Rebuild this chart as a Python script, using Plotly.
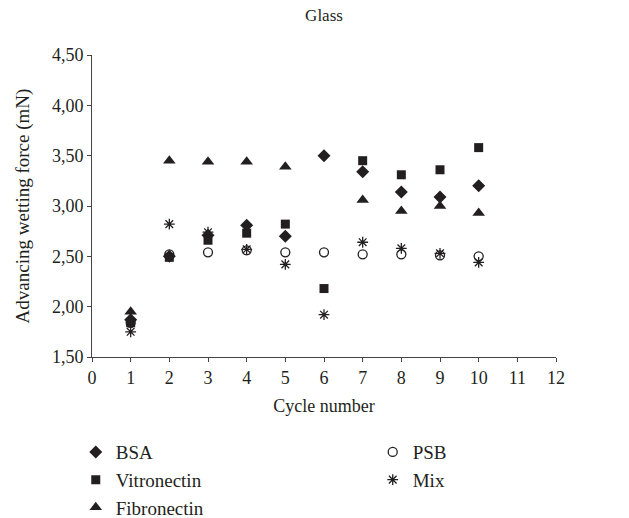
import plotly.graph_objects as go

cycles = [1, 2, 3, 4, 5, 6, 7, 8, 9, 10]
bsa = [1.87, 2.50, 2.71, 2.81, 2.70, 3.50, 3.34, 3.14, 3.09, 3.20]
vitronectin = [1.84, 2.49, 2.66, 2.73, 2.82, 2.18, 3.45, 3.31, 3.36, 3.58]
fibronectin = [1.95, 3.45, 3.44, 3.44, 3.39, None, 3.06, 2.95, 3.00, 2.93]
psb = [1.84, 2.52, 2.54, 2.56, 2.54, 2.54, 2.52, 2.52, 2.51, 2.50]
mix = [1.75, 2.82, 2.74, 2.57, 2.42, 1.92, 2.64, 2.58, 2.53, 2.44]

ink = "#231f20"
axis_col = "#444"
font_family = "Liberation Serif, Times New Roman, serif"

fig = go.Figure()
series = [
    ("BSA", bsa, "diamond", 10, "legend"),
    ("Vitronectin", vitronectin, "square", 9, "legend"),
    ("Fibronectin", fibronectin, "triangle-up", 11, "legend"),
    ("PSB", psb, "circle-open", 9, "legend2"),
    ("Mix", mix, "asterisk-open", 9, "legend2"),
]
for name, vals, sym, size, leg in series:
    fig.add_trace(go.Scatter(
        x=cycles, y=vals, mode="markers", name=name, legend=leg,
        marker=dict(symbol=sym, size=size, color=ink,
                    line=dict(color=ink, width=1.3 if "open" in sym else 0)),
    ))

fig.update_layout(
    width=629, height=518,
    margin=dict(l=92, r=73, t=55, b=161, autoexpand=False),
    paper_bgcolor="white", plot_bgcolor="white",
    separators=",.",
    font=dict(family=font_family, size=18, color=ink),
    title=dict(text="Glass", x=(92 + 232) / 629, xanchor="center", y=1 - 15 / 518,
               yanchor="middle", font=dict(size=17, color=ink)),
    xaxis=dict(range=[0, 12], dtick=1, tick0=0, showline=True, linecolor=axis_col,
               linewidth=1, ticks="outside", ticklen=4, tickcolor=axis_col,
               showgrid=False, zeroline=False,
               title=dict(text="Cycle number", standoff=12, font=dict(size=18)),
               tickfont=dict(size=18)),
    yaxis=dict(range=[1.5, 4.5], dtick=0.5, tick0=1.5, tickformat=".2f",
               showline=True, linecolor=axis_col, linewidth=1, ticks="outside",
               ticklen=4, tickcolor=axis_col, showgrid=False, zeroline=False,
               title=dict(text="Advancing wetting force (mN)", standoff=17,
                          font=dict(size=19)),
               tickfont=dict(size=18)),
    legend=dict(x=-0.035, y=-0.252, xanchor="left", yanchor="top",
                font=dict(size=19), tracegroupgap=0, itemwidth=30,
                bgcolor="rgba(0,0,0,0)"),
    legend2=dict(x=0.605, y=-0.252, xanchor="left", yanchor="top",
                 font=dict(size=19), tracegroupgap=0, itemwidth=30,
                 bgcolor="rgba(0,0,0,0)"),
)

fig.write_html("out.html")
